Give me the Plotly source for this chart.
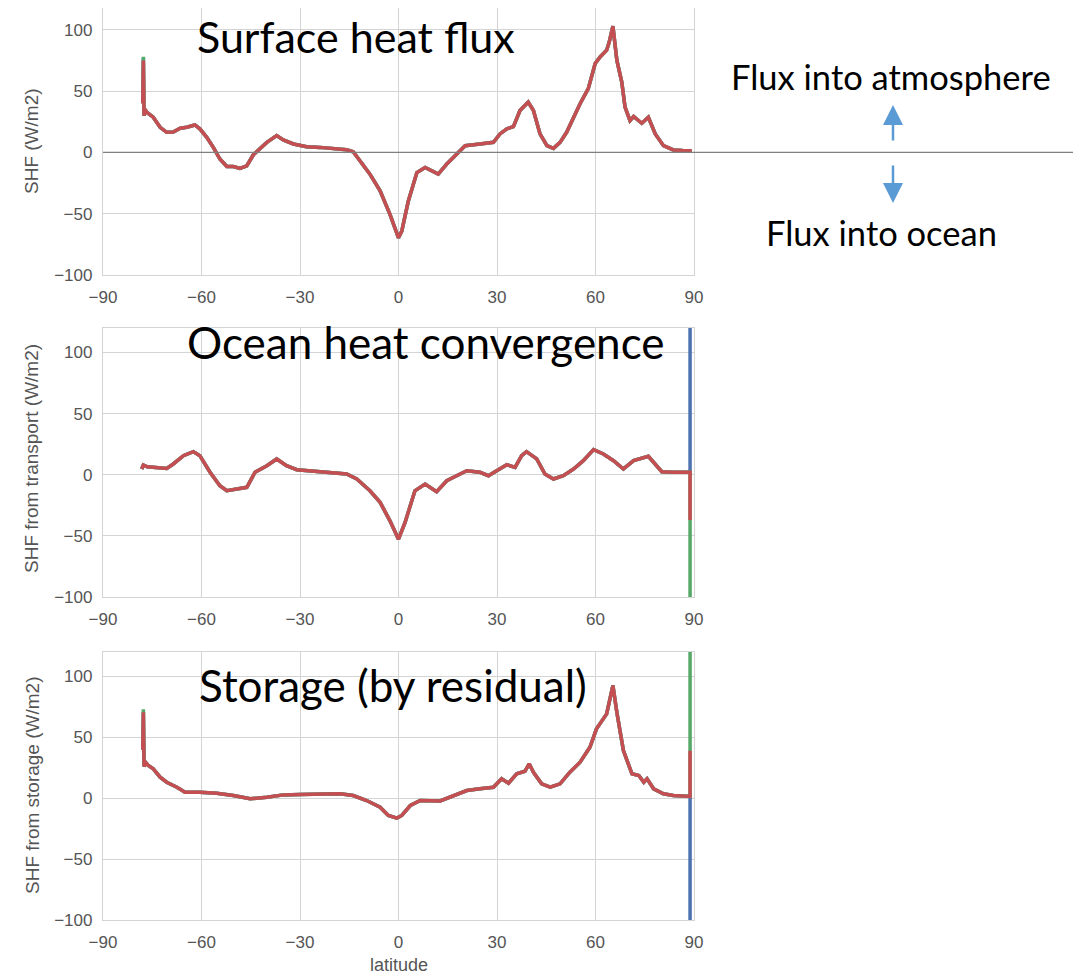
import plotly.graph_objects as go

# --- data ---
# surface heat flux (top panel)
shf_lat = [-77.9, -77.7, -77.5, -77.2, -76.7, -74.7, -72.6, -70.6, -68.6, -66.5, -64.5, -62.0,
           -60.5, -58.4, -56.4, -54.4, -52.3, -50.3, -48.3, -46.2, -44.2, -42.2, -40.1, -37.1,
           -35.1, -32.0, -28.0, -23.9, -19.9, -15.8, -13.8, -11.7, -8.7, -5.6, -2.6, 0.0,
           1.0, 3.0, 5.6, 8.1, 12.1, 14.7, 17.7, 20.3, 24.8, 28.9, 30.9, 33.0, 35.0, 37.0,
           39.5, 41.1, 43.1, 45.2, 47.2, 49.2, 51.2, 53.3, 55.3, 57.8, 59.9, 61.4, 63.4,
           64.2, 65.3, 66.5, 68.0, 69.0, 70.5, 71.6, 74.1, 76.1, 78.2, 80.7, 83.7, 86.5, 89.3]
shf_val = [40, 75, 30, 35, 32.8, 28.7, 20.5, 16.4, 16.6, 19.7, 20.5, 22.4,
           19.2, 12.3, 4.1, -5.4, -11.5, -11.5, -13.1, -10.9, -1.9, 2.8, 8.2, 13.7,
           10.2, 6.9, 4.7, 4.1, 3.3, 2.2, 0.5, -6.8, -17.7, -31.4, -50.5, -69.7,
           -64.2, -39.6, -16.4, -12.3, -17.7, -9.5, -1.3, 5.5, 6.9, 8.2, 15.1, 19.2, 21.1, 34.2,
           41.0, 34.2, 15.1, 5.5, 3.3, 8.2, 16.4, 28.7, 39.7, 52.0, 72.5, 77.9, 83.4,
           90.2, 103, 75.2, 57.4, 36.9, 26.0, 29.3, 23.8, 28.7, 15.1, 5.5, 2.0, 1.5, 1.4]
shf_spike = {"blue": 77, "green": 78, "red": 75}

# ocean heat convergence (middle panel)
tr_lat = [-78.2, -77.7, -76.5, -74.7, -72.5, -70.6, -68.6, -65.5, -62.5, -60.5, -57.4, -54.4,
          -52.3, -49.3, -46.2, -43.7, -40.1, -37.1, -34.1, -31.0, -24.9, -19.0, -15.8, -12.7,
          -8.7, -5.6, -2.6, 0.0, 2.0, 5.0, 8.1, 11.6, 14.7, 17.7, 20.8, 24.8, 27.4, 29.9,
          33.0, 35.5, 37.5, 39.0, 40.6, 42.1, 44.6, 47.2, 50.2, 53.3, 56.3, 59.4, 62.4,
          65.5, 68.5, 71.6, 76.1, 78.2, 80.2, 83.7, 88.8]
tr_val = [4.7, 7.9, 6.5, 6.0, 5.5, 5.2, 8.8, 15.6, 18.9, 15.6, 2.0, -9.0,
          -13.1, -11.7, -10.3, 2.0, 7.4, 12.9, 7.4, 4.1, 2.5, 1.5, 0.6, -3.5,
          -13.1, -22.6, -37.7, -52.7, -39.0, -13.1, -7.6, -13.9, -4.9, -0.8, 3.3, 2.0, -0.8, 3.3,
          8.2, 6.0, 15.6, 18.9, 15.6, 12.9, 0.6, -3.5, -0.8, 4.7, 11.5, 20.5, 17.0,
          11.5, 4.7, 11.5, 15.1, 8.8, 2.5, 2.0, 2.0]
tr_end = {"blue": 400, "green": -400, "red": -37}

# storage by residual (bottom panel)
st_lat = [-77.9, -77.7, -77.5, -76.9, -76.2, -74.7, -72.6, -70.6, -67.5, -65.0, -60.5, -55.4,
          -50.3, -45.2, -40.1, -35.1, -30.0, -23.9, -17.8, -13.8, -9.7, -5.6, -3.1, -0.5,
          1.0, 3.6, 6.6, 12.7, 16.8, 20.8, 24.8, 28.9, 31.4, 33.5, 36.0, 38.5, 39.8, 41.1,
          43.6, 46.2, 49.2, 52.2, 55.3, 58.3, 60.3, 63.4, 65.3, 66.5, 68.5, 71.1, 73.2,
          74.7, 75.7, 77.7, 80.7, 83.7, 88.8]
st_val = [40, 70.5, 26.0, 29.0, 26.8, 24.1, 17.2, 13.1, 9.0, 4.9, 4.9, 4.1,
          2.2, -0.5, 0.8, 2.7, 3.0, 3.6, 3.6, 2.2, -1.9, -7.4, -14.2, -16.4,
          -14.2, -6.0, -1.9, -2.3, 2.2, 6.3, 7.7, 9.0, 15.9, 12.3, 20.0, 22.1, 28.2, 21.3,
          11.8, 9.0, 11.8, 21.3, 29.5, 41.8, 56.9, 69.2, 92.4, 70.5, 39.1, 20.0, 18.6,
          13.1, 15.9, 7.7, 3.6, 2.2, 1.4]
st_spike = {"blue": 71, "green": 73, "red": 70.5}
st_end = {"blue": -400, "green": 400, "red": 39}

lat_ticks = [-90, -60, -30, 0, 30, 60, 90]
val_ticks = [-100, -50, 0, 50, 100]

colors = {"blue": "#4c72b0", "green": "#55a868", "red": "#c44e52"}

# the page body adds an 8px margin, so the figure is shifted by 8px
OFF = 8
W, H = 1081 - OFF, 975 - OFF


def fx(px):
    return (px - OFF) / W


def fy(py):
    return 1 - (py - OFF) / H


fig = go.Figure()

for name in ["blue", "green", "red"]:
    y1 = list(shf_val)
    y1[1] = shf_spike[name]
    fig.add_trace(go.Scatter(x=shf_lat, y=y1, mode="lines", xaxis="x", yaxis="y",
                             line=dict(color=colors[name], width=3.5), showlegend=False))

    fig.add_trace(go.Scatter(x=tr_lat + [tr_lat[-1]], y=tr_val + [tr_end[name]], mode="lines",
                             xaxis="x2", yaxis="y2",
                             line=dict(color=colors[name], width=3.5), showlegend=False))

    y3 = list(st_val)
    y3[1] = st_spike[name]
    fig.add_trace(go.Scatter(x=st_lat + [st_lat[-1]], y=y3 + [st_end[name]], mode="lines",
                             xaxis="x3", yaxis="y3",
                             line=dict(color=colors[name], width=3.5), showlegend=False))

tick_font = dict(family="Liberation Sans, Arial, sans-serif", size=17, color="#555555")
grid = "#d4d4d4"

xstyle = dict(range=[-90, 90], tickvals=lat_ticks, showgrid=True, gridcolor=grid, gridwidth=1.3,
              zeroline=False, showline=True, linecolor=grid, linewidth=1.3, mirror=True,
              ticks="", tickfont=tick_font, automargin=False, ticklabelstandoff=6)
ystyle = dict(range=[-100, 120], tickvals=val_ticks, showgrid=True, gridcolor=grid, gridwidth=1.3,
              zeroline=False, showline=True, linecolor=grid, linewidth=1.3, mirror=True,
              ticks="", tickfont=tick_font, automargin=False, ticklabelstandoff=6)

xdom = [fx(103), fx(694)]
fig.update_layout(
    width=W, height=H,
    template="none",
    margin=dict(l=0, r=0, t=0, b=0),
    paper_bgcolor="white", plot_bgcolor="white",
    xaxis=dict(xstyle, domain=xdom, anchor="y"),
    # top panel starts 2px lower than the reference (page margin), so its range is trimmed
    yaxis=dict(ystyle, domain=[fy(275), 1.0], anchor="x", range=[-100, 117.8]),
    xaxis2=dict(xstyle, domain=xdom, anchor="y2"),
    yaxis2=dict(ystyle, domain=[fy(597), fy(328)], anchor="x2"),
    xaxis3=dict(xstyle, domain=xdom, anchor="y3"),
    yaxis3=dict(ystyle, domain=[fy(920), fy(652)], anchor="x3"),
)

# zero line running out of the top panel across the page
fig.add_shape(type="line", xref="paper", yref="y", x0=fx(103), x1=1, y0=0, y1=0,
              line=dict(color="#808080", width=1.3), layer="above")

big = dict(family="Lato, Open Sans, sans-serif", size=44, color="black")
small = dict(family="Lato, Open Sans, sans-serif", size=34.5, color="black")
label = dict(family="Liberation Sans, Arial, sans-serif", size=19, color="#555555")

ann = [
    # kept a little lower than in the reference so the text box stays inside the figure
    dict(text="Surface heat flux", x=fx(356), y=fy(36), font=dict(big, size=43)),
    dict(text="Ocean heat convergence", x=fx(426), y=fy(342), font=big),
    dict(text="Storage (by residual)", x=fx(393), y=fy(685), font=big),
    dict(text="Flux into atmosphere", x=fx(891), y=fy(77), font=small),
    dict(text="Flux into ocean", x=fx(881), y=fy(233), font=small),
    dict(text="SHF (W/m2)", x=fx(32), y=fy(141), font=label, textangle=-90),
    dict(text="SHF from transport (W/m2)", x=fx(32), y=fy(459), font=label, textangle=-90),
    dict(text="SHF from storage (W/m2)", x=fx(32), y=fy(786), font=label, textangle=-90),
    dict(text="latitude", x=fx(399), y=fy(965), font=dict(label, size=18)),
]
for a in ann:
    fig.add_annotation(xref="paper", yref="paper", showarrow=False,
                       xanchor="center", yanchor="middle", **a)

# arrows next to the zero line
fig.add_annotation(xref="paper", yref="paper", x=fx(893), y=fy(105), ax=0, ay=37, text="",
                   showarrow=True, arrowhead=2, arrowsize=1.6, arrowwidth=2.5, arrowcolor="#5b9bd5")
fig.add_annotation(xref="paper", yref="paper", x=fx(893), y=fy(203), ax=0, ay=-39, text="",
                   showarrow=True, arrowhead=2, arrowsize=1.6, arrowwidth=2.5, arrowcolor="#5b9bd5")

fig.write_html("out.html")
